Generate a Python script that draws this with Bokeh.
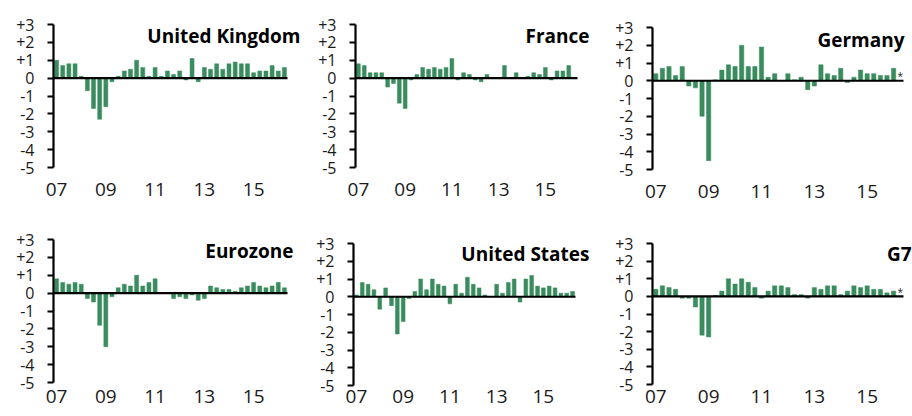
from bokeh.plotting import figure
from bokeh.layouts import column, row
from bokeh.models import Range1d, FixedTicker, Label, ColumnDataSource
from bokeh.embed import file_html
from bokeh.resources import INLINE

# ---- data: quarterly GDP growth, % q/q, 2007Q1 onwards ----
year_ticks = [0, 8, 16, 24, 32]
year_labels = ["07", "09", "11", "13", "15"]
y_ticks = [3, 2, 1, 0, -1, -2, -3, -4, -5]
y_labels = ["+3", "+2", "+1", "0", "-1", "-2", "-3", "-4", "-5"]

uk = [1.0, 0.7, 0.8, 0.8, 0.1, -0.7, -1.7, -2.3, -1.6, -0.2, 0.1, 0.4, 0.5, 1.0, 0.6, 0.1,
      0.6, 0.1, 0.4, 0.2, 0.4, -0.1, 1.1, -0.2, 0.6, 0.5, 0.8, 0.5, 0.8, 0.9, 0.8, 0.8,
      0.3, 0.4, 0.4, 0.7, 0.4, 0.6]
france = [0.8, 0.7, 0.3, 0.3, 0.3, -0.5, -0.3, -1.4, -1.7, -0.1, 0.2, 0.6, 0.5, 0.6, 0.5, 0.6,
          1.1, -0.1, 0.3, 0.2, -0.1, -0.2, 0.2, 0.0, 0.0, 0.7, 0.0, 0.3, 0.0, 0.1, 0.3, 0.2,
          0.6, -0.1, 0.4, 0.4, 0.7, 0.0]
germany = [0.4, 0.7, 0.8, 0.3, 0.8, -0.3, -0.4, -2.0, -4.5, 0.05, 0.6, 0.9, 0.8, 2.0, 0.8, 0.8,
           1.9, 0.2, 0.4, 0.0, 0.4, 0.05, 0.2, -0.5, -0.3, 0.9, 0.4, 0.3, 0.7, -0.1, 0.2, 0.6,
           0.4, 0.4, 0.3, 0.3, 0.7]
eurozone = [0.8, 0.6, 0.5, 0.6, 0.5, -0.3, -0.5, -1.8, -3.0, -0.2, 0.3, 0.5, 0.4, 1.0, 0.4, 0.6,
            0.8, 0.0, 0.0, -0.3, -0.2, -0.3, -0.1, -0.4, -0.3, 0.4, 0.3, 0.2, 0.2, 0.1, 0.3, 0.4,
            0.6, 0.4, 0.3, 0.4, 0.6, 0.3]
us = [0.1, 0.8, 0.7, 0.4, -0.7, 0.5, -0.5, -2.1, -1.4, -0.1, 0.3, 1.0, 0.4, 1.0, 0.7, 0.6,
      -0.4, 0.7, 0.2, 1.1, 0.7, 0.5, 0.1, 0.0, 0.7, 0.2, 0.8, 1.0, -0.3, 1.0, 1.2, 0.6,
      0.5, 0.6, 0.5, 0.2, 0.2, 0.3]
g7 = [0.4, 0.6, 0.5, 0.4, -0.1, -0.1, -0.6, -2.2, -2.3, 0.05, 0.3, 1.0, 0.7, 1.0, 0.8, 0.5,
      -0.1, 0.3, 0.6, 0.6, 0.5, 0.1, 0.1, -0.1, 0.5, 0.4, 0.6, 0.6, 0.1, 0.3, 0.6, 0.5,
      0.6, 0.4, 0.4, 0.2, 0.3]

N_SLOTS = 38
Y_TOP, Y_BOT = 3, -5
BAR_COLOR = "#3a8c5e"
TEXT_COLOR = "#1a1a1a"
FONT = "Open Sans"

# figure geometry in px (relative to each figure): W, H, axis x (L), slot end x (R),
# y of +3 (T), y of -5 (B), title right edge, title baseline, x-label standoff, asterisk
specs = [
    ("United Kingdom", uk, 305, 212, 53, 287, 24, 167, 300, 35.0, 15, False),
    ("France", france, 295, 212, 50, 272, 24, 167, 284, 35.0, 15, False),
    ("Germany", germany, 312, 212, 52, 303, 27, 169, 304, 39.0, 15, True),
    ("Eurozone", eurozone, 305, 204, 53, 287, 27, 170, 293, 38.7, 7, False),
    ("United States", us, 295, 204, 48, 270, 31, 173, 284, 41.3, 4, False),
    ("G7", g7, 312, 204, 52, 303, 31, 172, 311, 41.3, 5, True),
]


def make_panel(name, vals, W, H, L, R, T, B, trx, tby, xstand, star):
    sx = N_SLOTS / (R - L)
    sy = (Y_TOP - Y_BOT) / (B - T)
    x0 = -0.5
    x_start = x0 - L * sx
    x_end = x0 + (W - L) * sx
    y_end = Y_TOP + T * sy
    y_start = Y_BOT - (H - B) * sy
    p = figure(width=W, height=H, output_backend="svg", toolbar_location=None,
               x_range=Range1d(x_start, x_end), y_range=Range1d(y_start, y_end),
               min_border=0)
    p.outline_line_color = None
    p.grid.visible = False
    p.background_fill_color = "white"
    p.border_fill_color = "white"

    src = ColumnDataSource(dict(x=list(range(len(vals))), top=vals))
    p.vbar(x="x", top="top", bottom=0, width=0.65, source=src,
           fill_color=BAR_COLOR, line_color=BAR_COLOR, line_width=0.5)

    # zero line across all quarter slots
    p.segment(x0=[x0], y0=[0], x1=[x0 + N_SLOTS], y1=[0], line_color="black", line_width=2.2)

    # y axis, pinned at the left edge of the first quarter slot
    ya = p.yaxis[0]
    ya.fixed_location = x0
    ya.bounds = (Y_BOT, Y_TOP)
    ya.ticker = FixedTicker(ticks=y_ticks)
    ya.major_label_overrides = {t: l for t, l in zip(y_ticks, y_labels)}
    ya.axis_line_width = 2.2
    ya.axis_line_color = "black"
    ya.major_tick_line_width = 2
    ya.major_tick_line_color = "black"
    ya.major_tick_in = 0
    ya.major_tick_out = 6
    ya.minor_tick_line_color = None
    ya.major_label_standoff = 13
    ya.major_label_text_font = FONT
    ya.major_label_text_font_size = "16px"
    ya.major_label_text_color = TEXT_COLOR

    # x axis (labels only), pinned at the -5 level
    xa = p.xaxis[0]
    xa.fixed_location = Y_BOT
    xa.ticker = FixedTicker(ticks=year_ticks)
    xa.major_label_overrides = {t: l for t, l in zip(year_ticks, year_labels)}
    xa.axis_line_color = None
    xa.major_tick_line_color = None
    xa.minor_tick_line_color = None
    xa.major_tick_in = 0
    xa.major_tick_out = 0
    xa.major_label_standoff = xstand
    xa.major_label_text_font = FONT
    xa.major_label_text_font_size = "19px"
    xa.major_label_text_color = TEXT_COLOR

    tx = x0 + (trx - L) * sx
    ty = Y_TOP - (tby - T) * sy
    p.add_layout(Label(x=tx, y=ty, text=name, text_align="right", text_baseline="alphabetic",
                       text_font=FONT, text_font_style="bold", text_font_size="19px",
                       text_color="black"))
    if star:
        p.add_layout(Label(x=N_SLOTS - 1, y=0.25, text="*", text_align="center",
                           text_baseline="alphabetic", text_font=FONT,
                           text_font_size="10px", text_color=TEXT_COLOR))
    return p


figs = [make_panel(*s) for s in specs]
layout = column(row(*figs[:3], spacing=0), row(*figs[3:], spacing=0), spacing=0)

open("out.html", "w").write(file_html(layout, INLINE))
